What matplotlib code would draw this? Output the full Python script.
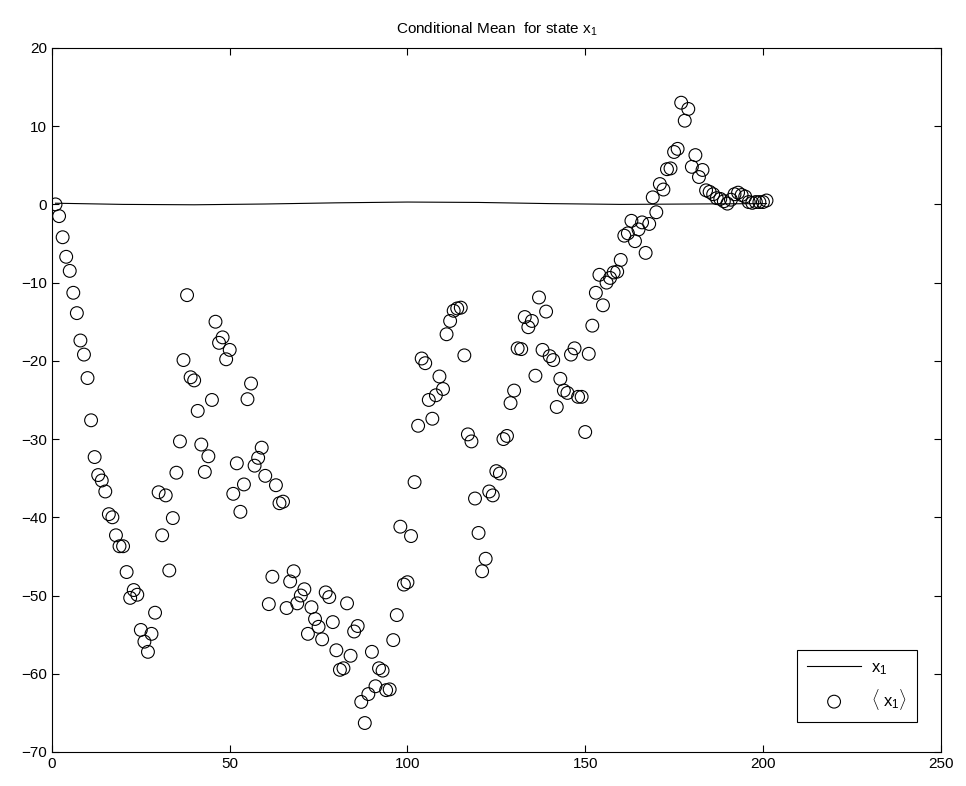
import matplotlib
matplotlib.use('Agg')
from matplotlib import pyplot as plt

plt.rcParams['font.family'] = ['Liberation Sans', 'DejaVu Sans']
plt.rcParams['mathtext.fontset'] = 'custom'
plt.rcParams['mathtext.rm'] = 'Liberation Sans'
plt.rcParams['mathtext.it'] = 'Liberation Sans'

# estimated conditional mean <x1>, one value per time step 1..201
mean_x1 = [
    0.0, -1.5, -4.2, -6.7, -8.5, -11.3, -13.9, -17.4, -19.2, -22.2,
    -27.6, -32.3, -34.6, -35.3, -36.7, -39.6, -40.0, -42.3, -43.7, -43.7,
    -47.0, -50.3, -49.3, -49.9, -54.4, -55.9, -57.2, -54.9, -52.2, -36.8,
    -42.3, -37.2, -46.8, -40.1, -34.3, -30.3, -19.9, -11.6, -22.1, -22.5,
    -26.4, -30.7, -34.2, -32.2, -25.0, -15.0, -17.7, -17.0, -19.8, -18.6,
    -37.0, -33.1, -39.3, -35.8, -24.9, -22.9, -33.4, -32.4, -31.1, -34.7,
    -51.1, -47.6, -35.9, -38.2, -38.0, -51.6, -48.2, -46.9, -51.0, -50.0,
    -49.2, -54.9, -51.5, -53.0, -54.0, -55.6, -49.6, -50.2, -53.4, -57.0,
    -59.5, -59.3, -51.0, -57.7, -54.6, -53.9, -63.6, -66.3, -62.6, -57.2,
    -61.6, -59.3, -59.6, -62.1, -62.0, -55.7, -52.5, -41.2, -48.6, -48.3,
    -42.4, -35.5, -28.3, -19.7, -20.3, -25.0, -27.4, -24.4, -22.0, -23.6,
    -16.6, -14.9, -13.6, -13.3, -13.2, -19.3, -29.4, -30.3, -37.6, -42.0,
    -46.9, -45.3, -36.7, -37.2, -34.1, -34.4, -30.0, -29.6, -25.4, -23.8,
    -18.4, -18.5, -14.4, -15.7, -14.9, -21.9, -11.9, -18.6, -13.7, -19.4,
    -19.9, -25.9, -22.3, -23.8, -24.1, -19.2, -18.4, -24.6, -24.6, -29.1,
    -19.1, -15.5, -11.3, -9.0, -12.9, -10.0, -9.4, -8.7, -8.6, -7.1,
    -4.0, -3.7, -2.1, -4.7, -3.2, -2.3, -6.2, -2.5, 0.9, -1.0,
    2.6, 1.9, 4.5, 4.6, 6.7, 7.1, 13.0, 10.7, 12.2, 4.8,
    6.3, 3.5, 4.4, 1.8, 1.6, 1.3, 0.8, 0.7, 0.4, 0.1,
    0.6, 1.3, 1.5, 1.2, 1.0, 0.3, 0.2, 0.3, 0.3, 0.3,
    0.5,
]
steps = list(range(1, len(mean_x1) + 1))

# true state x1 (nearly flat), sampled every 20 steps
state_t = [1, 20, 40, 60, 80, 100, 120, 140, 160, 180, 201]
state_x1 = [0.15, 0.0, -0.05, 0.05, 0.2, 0.3, 0.25, 0.1, 0.0, 0.05, 0.1]

fig = plt.figure(figsize=(9.66, 7.86), dpi=100)
ax = fig.add_axes([0.0538, 0.0433, 0.920, 0.8957])

ax.plot(state_t, state_x1, color='k', lw=0.8, label=r'$x_1$')
ax.scatter(steps, mean_x1, s=85, facecolors='none', edgecolors='k',
           linewidths=0.8, label=r'$\langle\ x_1\rangle$')

ax.set_xlim(0, 250)
ax.set_ylim(-70, 20)
ax.set_xticks(range(0, 251, 50))
ax.set_yticks(range(-70, 21, 10))
ax.tick_params(direction='in', top=True, right=True, labelsize=11, length=5)
for sp in ax.spines.values():
    sp.set_linewidth(0.8)

ax.set_title(r'Conditional Mean  for state $x_1$', fontsize=11, pad=10)

leg = ax.legend(loc='lower right', bbox_to_anchor=(0.973, 0.0426), fontsize=12,
                fancybox=False, framealpha=1, edgecolor='k', borderaxespad=0,
                handlelength=3.2, borderpad=0.6, labelspacing=0.6,
                handletextpad=0.6)
leg.get_frame().set_linewidth(0.8)

plt.savefig('out.png', dpi=100)
